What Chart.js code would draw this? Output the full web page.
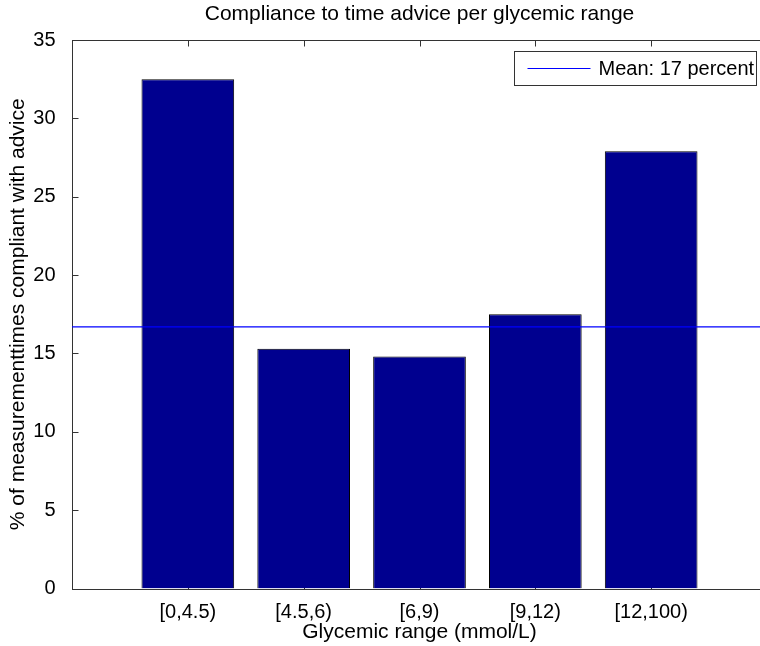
<!DOCTYPE html>
<html>
<head>
<meta charset="utf-8">
<title>Compliance to time advice per glycemic range</title>
<script src="https://cdn.jsdelivr.net/npm/chart.js@4.4.1/dist/chart.umd.min.js"></script>
<style>
  html, body { margin: 0; padding: 0; background: #fff; overflow: hidden; }
  #wrap { width: 760px; height: 646px; overflow: hidden; }
</style>
</head>
<body>
<div id="wrap"><canvas id="complianceChart" width="839" height="646"></canvas></div>
<script>
// values
const categories = ['[0,4.5)', '[4.5,6)', '[6,9)', '[9,12)', '[12,100)'];
const compliance = [32.5, 15.3, 14.8, 17.5, 27.9];
const meanCompliance = 16.7;
const yTicks = [0, 5, 10, 15, 20, 25, 30, 35];

const FONT = '"Liberation Sans", Arial, Helvetica, sans-serif';
Chart.defaults.font.family = FONT;
Chart.defaults.color = '#000';

// matlab style box round the plot with inward ticks on every side
const matlabAxes = {
    id: 'matlabAxes',
    beforeDatasetsDraw(chart) {
        const { ctx, chartArea: a, scales: { x, y } } = chart;
        const l = Math.round(a.left) + 0.5, r = Math.round(a.right) + 0.5;
        const t = Math.round(a.top) + 0.5, b = Math.round(a.bottom) + 0.5;
        ctx.save();
        ctx.strokeStyle = '#333';
        ctx.lineWidth = 1;
        ctx.beginPath();
        x.ticks.forEach(tick => {
            const px = Math.round(x.getPixelForValue(tick.value)) + 0.5;
            ctx.moveTo(px, b); ctx.lineTo(px, b - 6);
            ctx.moveTo(px, t); ctx.lineTo(px, t + 6);
        });
        y.ticks.forEach(tick => {
            const py = Math.round(y.getPixelForValue(tick.value)) + 0.5;
            ctx.moveTo(l, py); ctx.lineTo(l + 6, py);
            ctx.moveTo(r, py); ctx.lineTo(r - 6, py);
        });
        ctx.stroke();
        ctx.strokeRect(l, t, r - l, b - t);
        ctx.restore();
    }
};

// legend with a frame, top right inside the plot
const boxedLegend = {
    id: 'boxedLegend',
    afterDatasetsDraw(chart) {
        const ds = chart.data.datasets.find(d => d.type === 'line');
        const { ctx, chartArea: a } = chart;
        ctx.save();
        ctx.font = '20px ' + FONT;
        const tw = ctx.measureText(ds.label).width;
        const w = 84 + tw + 3, h = 34;
        const right = Math.round(a.right - 11) + 0.5;
        const left = Math.round(right - w) + 0.5;
        const top = Math.round(a.top + 11) + 0.5;
        ctx.fillStyle = '#fff';
        ctx.fillRect(left, top, right - left, h);
        ctx.strokeStyle = '#333';
        ctx.lineWidth = 1;
        ctx.strokeRect(left, top, right - left, h);
        ctx.strokeStyle = ds.borderColor;
        ctx.beginPath();
        ctx.moveTo(left + 13, top + 17);
        ctx.lineTo(left + 76, top + 17);
        ctx.stroke();
        ctx.fillStyle = '#000';
        ctx.textBaseline = 'middle';
        ctx.fillText(ds.label, left + 84, top + 17.5);
        ctx.restore();
    }
};

const ctx = document.getElementById('complianceChart').getContext('2d');
const complianceChart = new Chart(ctx, {
    type: 'bar',
    data: {
        datasets: [{
            type: 'line',
            label: `Mean: ${Math.round(meanCompliance)} percent`,
            data: [{ x: 0, y: meanCompliance }, { x: categories.length + 1, y: meanCompliance }],
            borderColor: '#0000ff',
            borderWidth: 1.2,
            pointRadius: 0,
            fill: false,
            order: 0
        }, {
            type: 'bar',
            label: 'Compliance',
            data: categories.map((c, i) => ({ x: i + 1, y: compliance[i] })),
            backgroundColor: '#00008f',
            borderColor: '#000',
            borderWidth: 1,
            categoryPercentage: 1,
            barPercentage: 0.8,
            order: 1
        }]
    },
    options: {
        responsive: false,
        animation: false,
        layout: { padding: 0 },
        plugins: {
            legend: { display: false },
            tooltip: { enabled: false },
            title: {
                display: true,
                text: 'Compliance to time advice per glycemic range',
                font: { size: 21, weight: 'normal' },
                color: '#000',
                padding: { top: 1.4, bottom: 13.4 }
            }
        },
        scales: {
            x: {
                type: 'linear',
                min: 0,
                max: categories.length + 1,
                offset: false,
                grid: { display: false, offset: false },
                border: { display: false },
                afterBuildTicks: scale => {
                    scale.ticks = [0, ...categories.map((c, i) => i + 1), categories.length + 1]
                        .map(v => ({ value: v }));
                },
                afterFit: scale => { scale.height = 57.5; },
                ticks: {
                    autoSkip: false,
                    maxRotation: 0,
                    padding: 3.5,
                    font: { size: 20 },
                    callback: value => categories[value - 1] || ''
                },
                title: {
                    display: true,
                    text: 'Glycemic range (mmol/L)',
                    font: { size: 21 },
                    padding: { top: 0, bottom: 1.4 }
                }
            },
            y: {
                min: yTicks[0],
                max: yTicks[yTicks.length - 1],
                grid: { display: false },
                border: { display: false },
                afterBuildTicks: scale => {
                    scale.ticks = yTicks.map(v => ({ value: v }));
                },
                afterFit: scale => { scale.width = 72; },
                ticks: {
                    padding: 8.5,
                    font: { size: 20 }
                },
                title: {
                    display: true,
                    text: '% of measurementtimes compliant with advice',
                    font: { size: 21 },
                    padding: { top: 6, bottom: 0 }
                }
            },
            // empty right axis, only keeps the plot symmetric so the title centres over it
            yRight: {
                position: 'right',
                min: yTicks[0],
                max: yTicks[yTicks.length - 1],
                grid: { display: false },
                border: { display: false },
                ticks: { display: false },
                afterFit: scale => { scale.width = 72; }
            }
        }
    },
    plugins: [matlabAxes, boxedLegend]
});
</script>
</body>
</html>
